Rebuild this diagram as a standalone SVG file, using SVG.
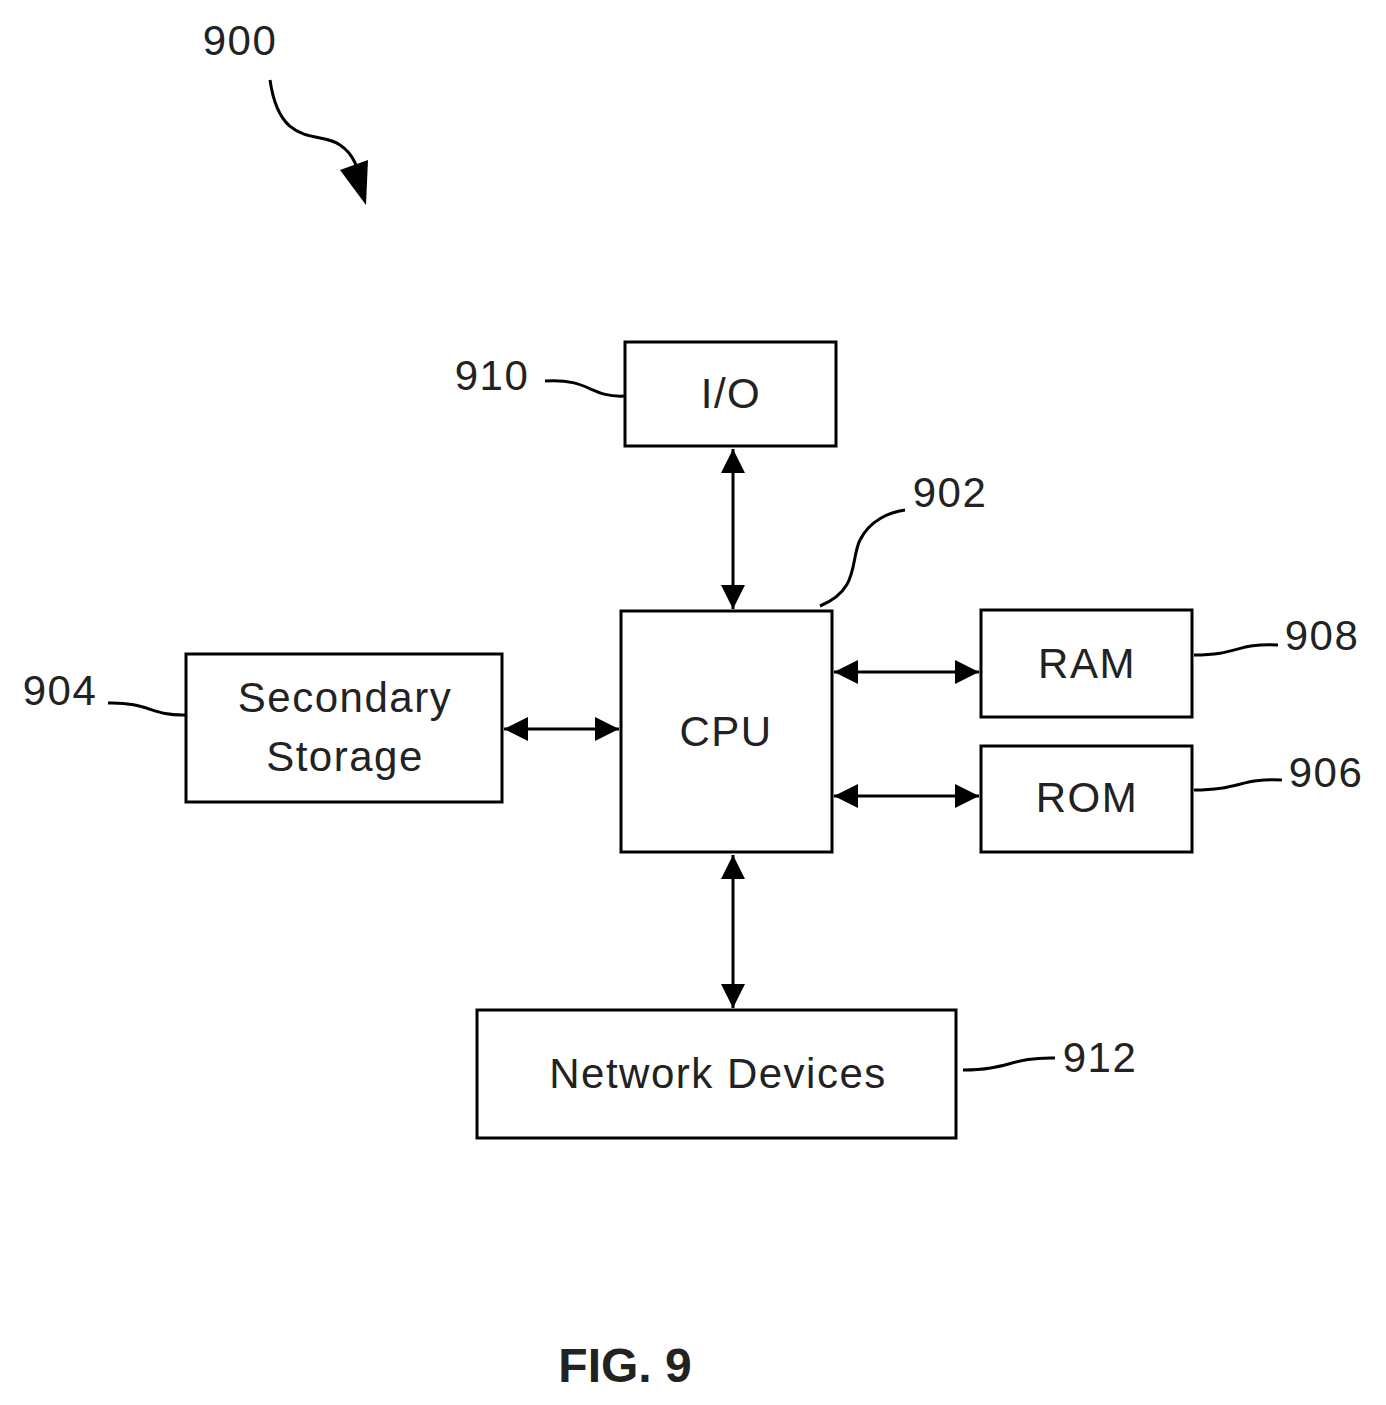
<svg xmlns="http://www.w3.org/2000/svg" width="1386" height="1405" viewBox="0 0 1386 1405">
<style>
.box{fill:#fff;stroke:#000;stroke-width:3}
.t{font-family:"Liberation Sans",Arial,sans-serif;font-size:42px;letter-spacing:1.5px;fill:#222;text-anchor:middle}
.lead{fill:none;stroke:#000;stroke-width:3}
.con{stroke:#000;stroke-width:3;marker-start:url(#a);marker-end:url(#a)}
</style>
<defs>
<marker id="a" viewBox="0 0 10 10" refX="10" refY="5" markerWidth="9" markerHeight="8" markerUnits="strokeWidth" orient="auto-start-reverse">
<path d="M0,0 L10,5 L0,10 z" fill="#000"/>
</marker>
</defs>
<rect width="1386" height="1405" fill="#fff"/>
<g id="connectors">
<line class="con" x1="733" y1="449" x2="733" y2="609"/>
<line class="con" x1="504" y1="729" x2="619" y2="729"/>
<line class="con" x1="834" y1="672" x2="979" y2="672"/>
<line class="con" x1="834" y1="796" x2="979" y2="796"/>
<line class="con" x1="733" y1="855" x2="733" y2="1008"/>
</g>
<g id="n900">
<text class="t" x="240" y="55">900</text>
<path class="lead" d="M270,80 C280,150 320,130 340,145 C355,155 358,170 360,180"/>
<path d="M340,170 L368,160 L366,205 z" fill="#000"/>
</g>
<g id="n910"><rect class="box" x="625" y="342" width="211" height="104"/><text class="t" x="731" y="408">I/O</text>
<text class="t" x="492" y="390">910</text><path class="lead" d="M545,381 C590,378 590,398 625,396"/></g>
<g id="n902"><rect class="box" x="621" y="611" width="211" height="241"/><text class="t" x="726" y="746">CPU</text>
<text class="t" x="950" y="507">902</text><path class="lead" d="M820,606 C860,590 850,560 860,540 C870,520 890,512 905,510"/></g>
<g id="n908"><rect class="box" x="981" y="610" width="211" height="107"/><text class="t" x="1087" y="678">RAM</text>
<text class="t" x="1322" y="650">908</text><path class="lead" d="M1194,655 C1240,655 1235,643 1278,645"/></g>
<g id="n906"><rect class="box" x="981" y="746" width="211" height="106"/><text class="t" x="1087" y="812">ROM</text>
<text class="t" x="1326" y="787">906</text><path class="lead" d="M1194,790 C1240,790 1240,778 1282,780"/></g>
<g id="n904"><rect class="box" x="186" y="654" width="316" height="148"/><text class="t" x="345" y="712">Secondary</text><text class="t" x="345" y="771">Storage</text>
<text class="t" x="60" y="705">904</text><path class="lead" d="M108,703 C150,702 150,716 186,715"/></g>
<g id="n912"><rect class="box" x="477" y="1010" width="479" height="128"/><text class="t" x="718" y="1088">Network Devices</text>
<text class="t" x="1100" y="1072">912</text><path class="lead" d="M963,1070 C1010,1070 1010,1057 1055,1058"/></g>
<text x="625" y="1382" style="font-family:'Liberation Sans',Arial,sans-serif;font-size:48px;font-weight:bold;fill:#222;text-anchor:middle">FIG. 9</text>
</svg>
